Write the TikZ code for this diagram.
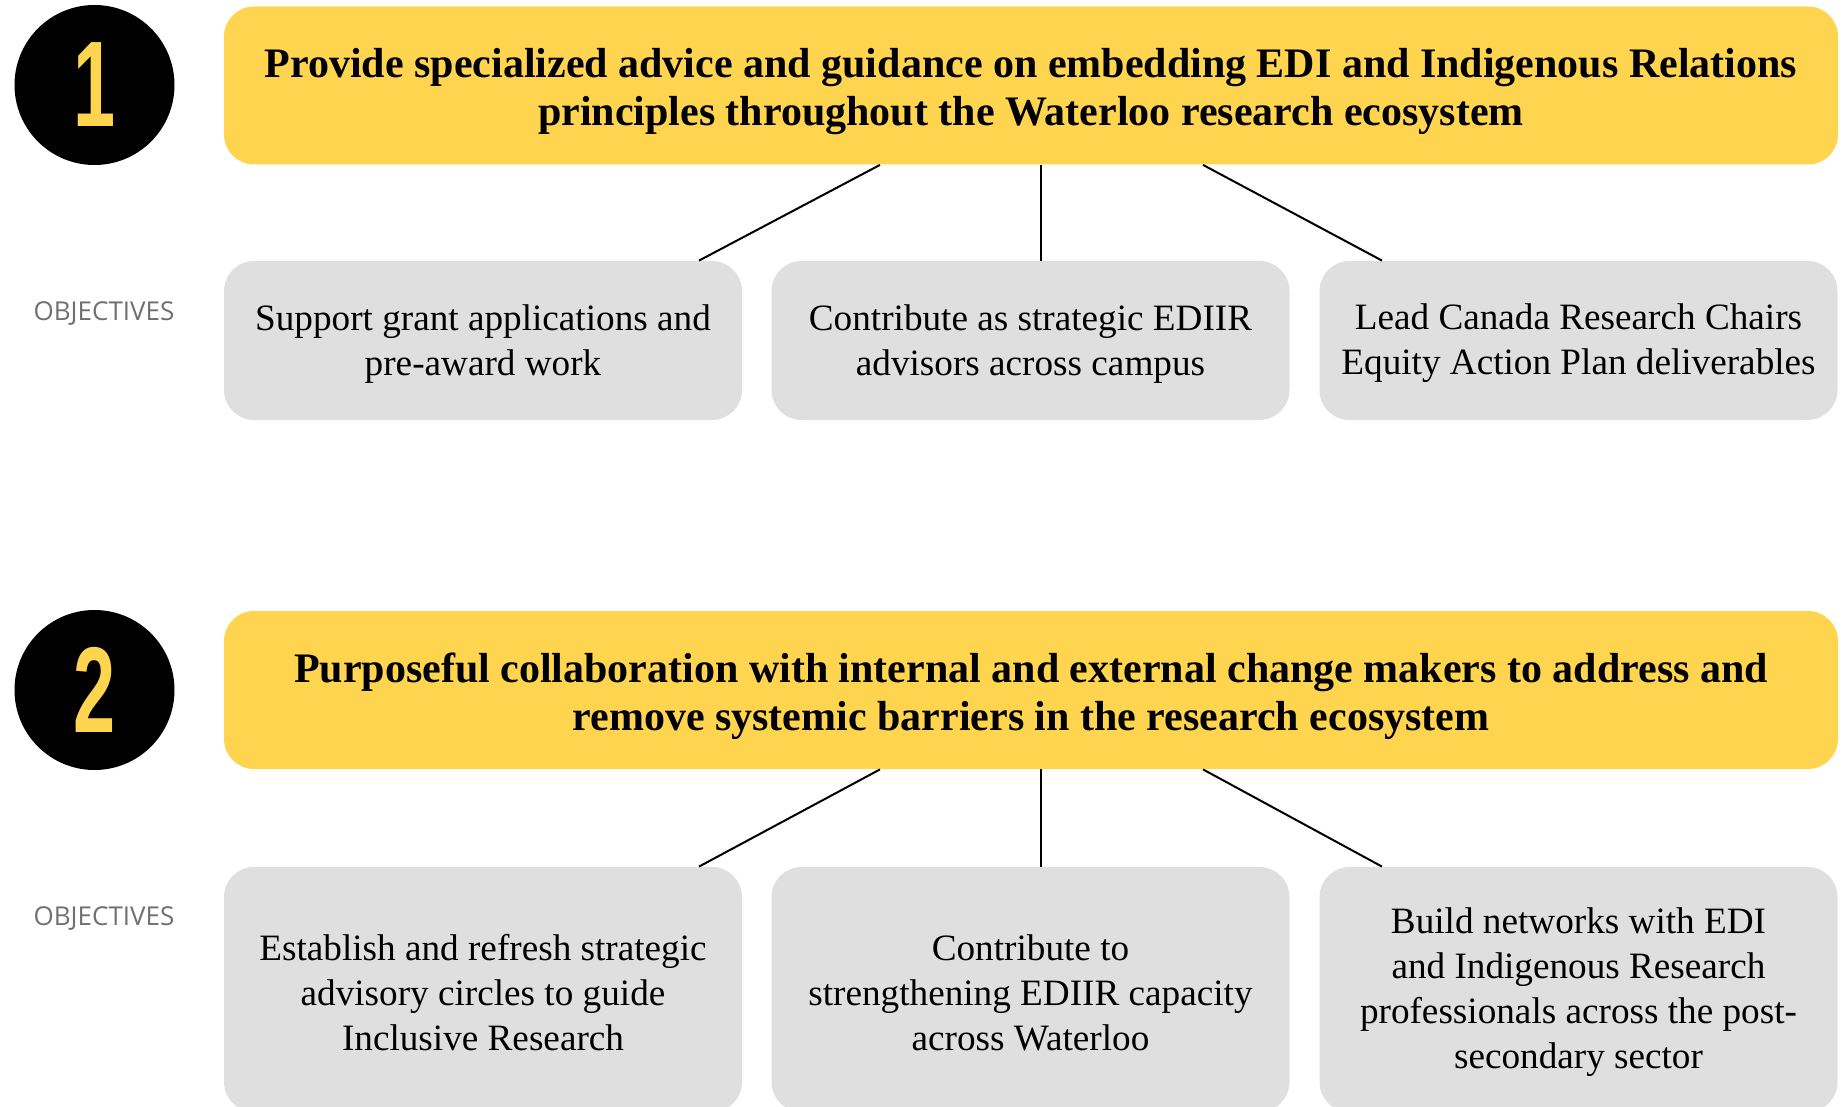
\documentclass[tikz,border=0pt]{standalone}
\usepackage{fontspec}
\usepackage{graphicx}
\setmainfont{Liberation Serif}
\newfontfamily\labelfont{Open Sans}
\newfontfamily\digitfont{Liberation Sans}
\usetikzlibrary{calc}
\definecolor{ediyellow}{HTML}{FFD54F}
\definecolor{boxgrey}{HTML}{DFDFDF}
\definecolor{labelgrey}{HTML}{707070}
% struts that push the first line of a box down a little
\newcommand\goalpad{\rule{0pt}{21pt}}
\newcommand\objpad{\rule{0pt}{16pt}}
\tikzset{
  numdisc/.style = {circle, fill=black, minimum size=80pt, inner sep=0pt,
    text=ediyellow, font=\digitfont\bfseries\fontsize{61}{61}\selectfont},
  goalbox/.style = {fill=ediyellow, rounded corners=15pt, align=center,
    minimum width=807pt, minimum height=79pt, inner sep=0pt,
    font=\bfseries\fontsize{21}{24}\selectfont},
  objbox/.style = {fill=boxgrey, rounded corners=15pt, align=center,
    minimum width=259pt, inner sep=0pt,
    font=\fontsize{18.6}{22.5}\selectfont},
  objlabel/.style = {text=labelgrey, inner sep=0pt,
    font=\labelfont\fontsize{13}{14}\selectfont},
  link/.style = {black, line width=1pt}
}

\begin{document}
\begin{tikzpicture}[x=0.5pt,y=-0.5pt]
    % Page frame (units are pixels of the layout, y runs down)
    \useasboundingbox (0,0) rectangle (1847,1107);
    % First goal
    \node[numdisc] (num1) at (94.5,85) {\scalebox{0.62}[1]{1}};
    \node[goalbox] (goal1) at (1031,85.5) {\goalpad Provide specialized advice and guidance on embedding EDI and Indigenous Relations\\principles throughout the Waterloo research ecosystem};
    % Objectives of the first goal
    \node[objlabel] (lab1) at (104,314) {OBJECTIVES};
    \node[objbox, minimum height=79.5pt] (obj11) at (483,340.5) {\objpad Support grant applications and\\pre-award work};
    \node[objbox, minimum height=79.5pt] (obj12) at (1030.5,340.5) {\objpad Contribute as strategic EDIIR\\advisors across campus};
    \node[objbox, minimum height=79.5pt] (obj13) at (1578.5,340.5) {\objpad Lead Canada Research Chairs\\Equity Action Plan deliverables};
    % Second goal
    \node[numdisc] (num2) at (94.5,690) {\scalebox{0.62}[1]{2}};
    \node[goalbox] (goal2) at (1031,690) {\goalpad Purposeful collaboration with internal and external change makers to address and\\remove systemic barriers in the research ecosystem};
    % Objectives of the second goal (boxes run off the page bottom)
    \node[objlabel] (lab2) at (104,919) {OBJECTIVES};
    \node[objbox, minimum height=122.5pt] (obj21) at (483,989.5) {\objpad Establish and refresh strategic\\advisory circles to guide\\Inclusive Research};
    \node[objbox, minimum height=122.5pt] (obj22) at (1030.5,989.5) {\objpad Contribute to\\strengthening EDIIR capacity\\across Waterloo};
    \node[objbox, minimum height=122.5pt] (obj23) at (1578.5,989.5) {\objpad Build networks with EDI\\and Indigenous Research\\professionals across the post-\\secondary sector};
    % Links from each goal down to its objectives
    \foreach \g in {1,2} {
      \draw[link] ($(goal\g.south)+(-151,0)$) -- ($(obj\g1.north)+(216,0)$);
      \draw[link] ($(goal\g.south)+(10,0)$) -- ($(obj\g2.north)+(10.5,0)$);
      \draw[link] ($(goal\g.south)+(172,0)$) -- ($(obj\g3.north)+(-196.5,0)$);
    }
\end{tikzpicture}
\end{document}
